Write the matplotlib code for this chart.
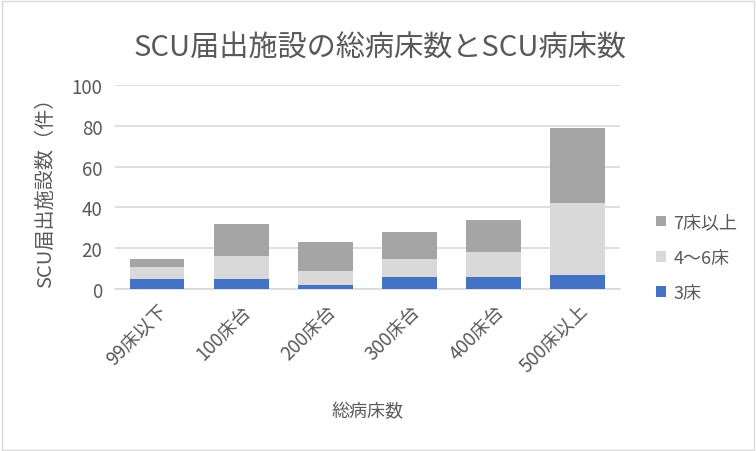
import numpy as np
import matplotlib
matplotlib.use('Agg')
import matplotlib.pyplot as plt
from matplotlib.patches import Rectangle

plt.rcParams['font.family'] = ['Noto Sans CJK JP', 'DejaVu Sans']

categories = ['99床以下', '100床台', '200床台', '300床台', '400床台', '500床以上']
beds_3 = [5, 5, 2, 6, 6, 7]
beds_4_6 = [6, 11, 7, 9, 12, 35]
beds_7plus = [4, 16, 14, 13, 16, 37]
series_names = ['3床', '4〜6床', '7床以上']
colors = ['#4472C4', '#D9D9D9', '#A5A5A5']

fig = plt.figure(figsize=(7.56, 4.52), dpi=100)
ax = fig.add_axes([0.152, 0.358, 0.668, 0.452])

x = np.arange(len(categories))
bottom = np.zeros(len(categories))
handles = []
for vals, name, c in zip([beds_3, beds_4_6, beds_7plus], series_names, colors):
    h = ax.bar(x, vals, 0.65, bottom=bottom, color=c, label=name, zorder=3)
    handles.append(h)
    bottom += np.array(vals)

ax.set_ylim(0, 100)
ax.set_xlim(-0.5, len(categories) - 0.5)
ax.set_yticks(range(0, 101, 20))
ax.yaxis.grid(True, color='#D9D9D9', linewidth=1.2, zorder=0)
for s in ['top', 'right', 'left']:
    ax.spines[s].set_visible(False)
ax.spines['bottom'].set_color('#D9D9D9')
ax.spines['bottom'].set_linewidth(1.2)
ax.tick_params(length=0, colors='#595959', labelsize=13.5)
ax.tick_params(axis='y', pad=9)
ax.tick_params(axis='x', pad=8)
ax.set_xticks(x)
ax.set_xticklabels(categories, rotation=45, ha='right', rotation_mode='anchor')

ax.set_ylabel('SCU届出施設数（件）', fontsize=14.5, color='#595959', labelpad=11)
ax.set_xlabel('総病床数', fontsize=13, color='#595959', labelpad=18)
# タイトルは図全体の中央寄り
ax.set_title('SCU届出施設の総病床数とSCU病床数', fontsize=21, color='#595959',
             pad=21, x=0.525)

leg = ax.legend(handles[::-1], series_names[::-1], loc='center left',
                bbox_to_anchor=(1.04, 0.155), frameon=False, fontsize=13,
                handlelength=0.55, handleheight=0.55, handletextpad=0.4,
                labelspacing=0.95, labelcolor='#595959')

fig.patches.append(Rectangle((0.002, 0.003), 0.995, 0.993, transform=fig.transFigure,
                             fill=False, edgecolor='#D9D9D9', linewidth=1))

fig.savefig('out.png', dpi=100)
